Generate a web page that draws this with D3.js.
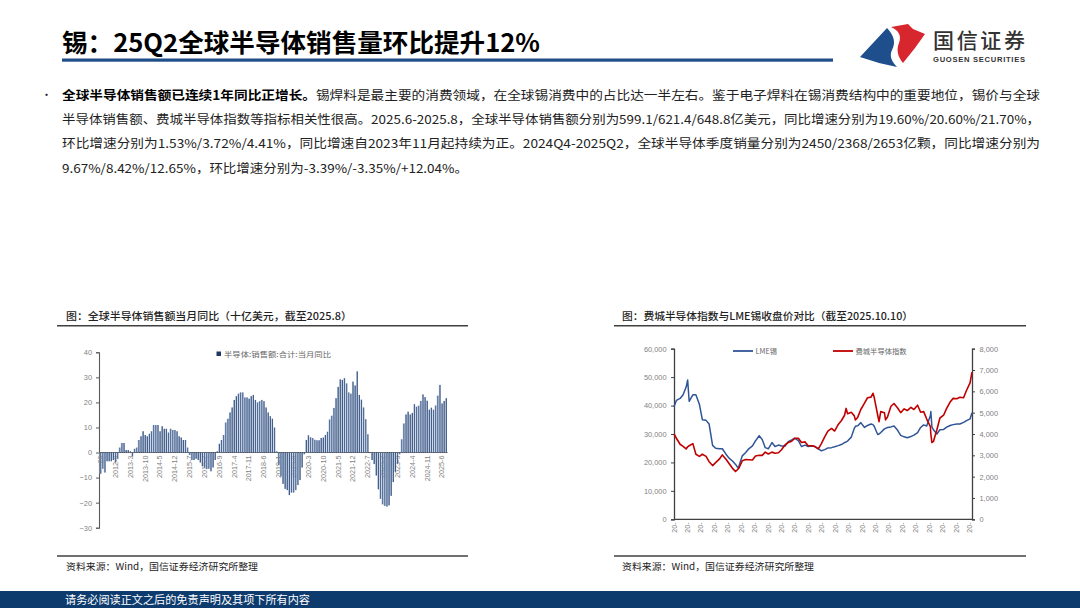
<!DOCTYPE html>
<html><head><meta charset="utf-8">
<script src="https://cdn.jsdelivr.net/npm/d3@7"></script>
<style>
html,body{margin:0;padding:0;background:#fff;}
svg{display:block;font-family:"Noto Sans CJK SC","Noto Sans",sans-serif;}
</style></head><body>
<svg id="c" width="1080" height="608"></svg>
<script>
// ---------------- DATA ----------------
const pageTitle = "锡：25Q2全球半导体销售量环比提升12%";
const bodyBold = "全球半导体销售额已连续1年同比正增长。";
const bodyLines = [
  "锡焊料是最主要的消费领域，在全球锡消费中的占比达一半左右。鉴于电子焊料在锡消费结构中的重要地位，锡价与全球",
  "半导体销售额、费城半导体指数等指标相关性很高。2025.6-2025.8，全球半导体销售额分别为599.1/621.4/648.8亿美元，同比增速分别为19.60%/20.60%/21.70%，",
  "环比增速分别为1.53%/3.72%/4.41%，同比增速自2023年11月起持续为正。2024Q4-2025Q2，全球半导体季度销量分别为2450/2368/2653亿颗，同比增速分别为",
  "9.67%/8.42%/12.65%，环比增速分别为-3.39%/-3.35%/+12.04%。"
];
const leftTitle = "图：全球半导体销售额当月同比（十亿美元，截至2025.8）";
const rightTitle = "图：费城半导体指数与LME锡收盘价对比（截至2025.10.10）";
const sourceText = "资料来源：Wind，国信证券经济研究所整理";
const footerText = "请务必阅读正文之后的免责声明及其项下所有内容";

// Left chart: monthly YoY (%), 2012-01 .. 2025-08
const semiFirstMonth = "2012-01";
const semiLastMonth = "2025-08";
const semiYoY = [
  -8.5, -6.5, -8, -3.5, -3.5, -3.5, -3, -4, -2.5, 2, 3.8, 3.8,
  1, 1, 0.5, -1.5, 1.5, 2, 5, 6.5, 8.5, 7, 6.5, 7.5,
  8.5, 11, 11, 11, 8.5, 10.5, 9.5, 9.5, 8, 9.5, 9, 9,
  8.5, 6.5, 6, 5, 5, 2, -1, -3, -3, -2.5, -3, -4,
  -5.5, -6, -6.5, -6.5, -7.5, -6, -3, 0.5, 3.5, 5, 7, 12,
  13.5, 16, 18, 21, 22.5, 23.5, 24, 24, 22, 22, 21.5, 22.5,
  23, 21, 20, 20.5, 21, 20.5, 18, 16, 14.5, 13.5, 10, 0.5,
  -5, -9.5, -12.5, -14.5, -15, -17, -16, -16, -15, -13, -11, -6,
  -0.7, 5, 6.9, 6.1, 5.8, 5.1, 4.9, 4.9, 5.8, 6, 7, 8.3,
  13.2, 14.7, 17.8, 21.7, 26.2, 29.2, 29, 29.7, 27.6, 24, 23.5, 28.3,
  26.8, 32.4, 23, 21.1, 18, 13.3, 7.3, 0.1, -3, -4.6, -9.2, -14.7,
  -18.5, -20.7, -21.3, -21.6, -21.1, -17.3, -11.8, -7.7, -4.5, -0.7, 5.3, 11.6,
  15.2, 16.3, 15.2, 15.8, 19.3, 18.3, 18.7, 20.6, 23.2, 22.1, 20.7, 17.1,
  17.9, 17.1, 18.8, 22.7, 27, 19.6, 20.6, 21.7
];
const semiLegend = "半导体:销售额:合计:当月同比";
const semiYTicks = [40, 30, 20, 10, 0, -10, -20, -30];
const semiLabelEvery = 7;

// Right chart
const tinDates = [
  "2022-01-04","2022-01-15","2022-02-01","2022-02-15","2022-03-01","2022-03-08","2022-03-15","2022-04-01","2022-04-15","2022-05-01",
  "2022-05-15","2022-06-01","2022-06-15","2022-07-01","2022-07-15","2022-08-01","2022-08-15","2022-09-01","2022-09-15","2022-10-01",
  "2022-10-15","2022-10-28","2022-11-01","2022-11-15","2022-12-01","2022-12-15","2023-01-01","2023-01-15","2023-02-01","2023-02-15",
  "2023-03-01","2023-03-15","2023-04-01","2023-04-15","2023-05-01","2023-05-15","2023-06-01","2023-06-15","2023-07-01","2023-07-15",
  "2023-08-01","2023-08-15","2023-09-01","2023-09-15","2023-10-01","2023-10-15","2023-11-01","2023-11-15","2023-12-01","2023-12-15",
  "2024-01-01","2024-01-15","2024-02-01","2024-02-15","2024-03-01","2024-03-08","2024-03-15","2024-04-01","2024-04-15","2024-04-20",
  "2024-05-01","2024-05-15","2024-06-01","2024-06-15","2024-07-01","2024-07-10","2024-07-15","2024-08-01","2024-08-07","2024-08-15",
  "2024-09-01","2024-09-06","2024-09-15","2024-10-01","2024-10-15","2024-11-01","2024-11-15","2024-12-01","2024-12-15","2025-01-01",
  "2025-01-15","2025-02-01","2025-02-15","2025-03-01","2025-03-15","2025-04-01","2025-04-03","2025-04-08","2025-04-15","2025-05-01",
  "2025-05-15","2025-06-01","2025-06-15","2025-07-01","2025-07-15","2025-08-01","2025-08-15","2025-09-01","2025-09-15","2025-10-01",
  "2025-10-10"
];
const tinLME = [
  39600,41800,42500,43800,46500,49000,41500,43800,43800,40500,
  35000,34800,33500,26000,25000,24800,24800,22900,21500,20500,
  19300,17900,19000,22300,23500,24800,25800,27600,29400,28100,
  25200,24800,27000,25600,26100,25800,25800,27300,27900,28500,
  27700,25600,26100,25600,25800,25600,24800,24100,24500,25100,
  25200,25500,25900,26300,27000,27200,27500,28900,32000,32700,
  32900,34000,32300,33000,33500,33300,32800,29800,30000,30500,
  31800,32000,32300,32500,32800,31300,29500,29000,28700,29100,
  29600,30500,32300,33200,32800,36500,37900,32500,31500,30000,
  31500,31600,32400,33000,33300,33500,33500,34100,34700,35300,
  37500
];
const soxIndex = [
  4000,3800,3520,3420,3300,3400,3450,3550,3050,2950,
  3050,2950,2700,2520,2660,2820,3020,2820,2620,2390,
  2240,2370,2430,2750,2800,2790,2780,2970,3000,3000,
  3150,3060,3150,3100,3120,3260,3500,3600,3660,3800,
  3800,3600,3630,3450,3450,3420,3300,3550,3880,4130,
  4260,4140,4450,4620,4880,5200,4950,5020,4850,4660,
  4790,5150,5450,5700,5730,5910,5750,4880,4580,5050,
  5000,4660,4800,5300,5430,5220,5000,5180,5100,5250,
  5150,5350,5020,5050,4700,4350,4000,3600,3650,4200,
  4750,4880,5200,5500,5670,5650,5720,5700,6050,6400,
  6900
];
const rightSeriesNames = ["LME锡", "费城半导体指数"];
const rightLeftTicks = [0, 10000, 20000, 30000, 40000, 50000, 60000];
const rightRightTicks = [0, 1000, 2000, 3000, 4000, 5000, 6000, 7000, 8000];
const rightXTickDates = [
  "2022-01-04","2022-03-07","2022-05-08","2022-07-09","2022-09-09","2022-11-10","2023-01-11","2023-03-14","2023-05-15","2023-07-16",
  "2023-09-16","2023-11-17","2024-01-18","2024-03-20","2024-05-21","2024-07-22","2024-09-22","2024-11-23","2025-01-24","2025-03-27",
  "2025-05-28","2025-07-29","2025-09-29"
];
const rightXTickText = "20-";

// ---------------- DRAW ----------------
const svg = d3.select("#c");
const NUM = '"Liberation Sans","DejaVu Sans",sans-serif';

const defs = svg.append("defs");
const grad = defs.append("linearGradient").attr("id", "barGrad")
  .attr("x1", "0").attr("x2", "1").attr("y1", "0").attr("y2", "0");
grad.append("stop").attr("offset", "0").attr("stop-color", "#b3c3dc");
grad.append("stop").attr("offset", "0.45").attr("stop-color", "#6581ad");
grad.append("stop").attr("offset", "1").attr("stop-color", "#17305a");

// Header
svg.append("text").attr("x", 62).attr("y", 52)
  .attr("font-size", 25).attr("font-weight", 700).attr("fill", "#000")
  .attr("textLength", 478).attr("lengthAdjust", "spacingAndGlyphs")
  .text(pageTitle);
svg.append("rect").attr("x", 62).attr("y", 58.5).attr("width", 771).attr("height", 3.2).attr("fill", "#1f4e89");

// Logo
svg.append("path").attr("fill", "#1e4e8c")
  .attr("d", "M860,57 L887,28 C894,35 896,43 892,50 C889,56 892,62 897,67 L879,63 Z");
svg.append("path").attr("fill", "#d8262e")
  .attr("d", "M891,27 L908,24 L913,29 L925,34 L915,48 L903,63 C898,57 896,50 899,43 C902,35 898,30 891,27 Z");
svg.append("text").attr("x", 933).attr("y", 48).attr("font-size", 21).attr("fill", "#333")
  .attr("font-weight", 500).attr("textLength", 92).text("国信证券");
svg.append("text").attr("x", 933).attr("y", 62).attr("font-size", 7.6).attr("fill", "#333")
  .attr("font-weight", 700).attr("font-family", NUM).attr("textLength", 92).text("GUOSEN SECURITIES");

// Paragraph
svg.append("text").attr("x", 41).attr("y", 99).attr("font-size", 11).attr("fill", "#222").text("•");
const lineY = [99.5, 123.8, 148.2, 172.5];
const lineLen = [978, 978, 978, 406];
bodyLines.forEach((s, i) => {
  const t = svg.append("text").attr("x", 62).attr("y", lineY[i])
    .attr("font-size", 12.3).attr("fill", "#222")
    .attr("textLength", lineLen[i]).attr("lengthAdjust", "spacingAndGlyphs");
  if (i === 0) t.append("tspan").attr("font-weight", 700).attr("fill", "#000").text(bodyBold);
  t.append("tspan").text(s);
});

// Panel frames (titles, rules, sources)
function panel(x0, x1, titleX, title, titleLen) {
  svg.append("text").attr("x", titleX).attr("y", 320).attr("font-size", 10.2)
    .attr("font-weight", 500).attr("fill", "#222")
    .attr("textLength", titleLen).attr("lengthAdjust", "spacingAndGlyphs").text(title);
  svg.append("line").attr("x1", x0).attr("x2", x1).attr("y1", 325.8).attr("y2", 325.8)
    .attr("stroke", "#404040").attr("stroke-width", 1.6);
  svg.append("line").attr("x1", x0).attr("x2", x1).attr("y1", 556).attr("y2", 556)
    .attr("stroke", "#404040").attr("stroke-width", 1.6);
  svg.append("text").attr("x", titleX).attr("y", 570).attr("font-size", 9.4)
    .attr("fill", "#222").attr("textLength", 192).attr("lengthAdjust", "spacingAndGlyphs").text(sourceText);
}
panel(57, 468, 66, leftTitle, 286);
panel(614, 1026, 622, rightTitle, 291);

// ---- Left chart ----
const months = d3.timeMonth.range(d3.timeParse("%Y-%m")(semiFirstMonth),
  d3.timeMonth.offset(d3.timeParse("%Y-%m")(semiLastMonth), 1));
const semiData = months.map((m, i) => ({ m, v: semiYoY[i], i }));
const xL = d3.scaleBand().domain(semiData.map(d => d.i)).range([99.5, 447]).paddingInner(0.2).paddingOuter(0.05);
const yLft = d3.scaleLinear().domain([-30, 40]).range([527.7, 352.3]);
const gL = svg.append("g");

// y axis
const yAxL = d3.axisLeft(yLft).tickValues(semiYTicks).tickSize(3).tickFormat(d3.format("d"));
const gy = gL.append("g").attr("transform", "translate(99,0)").call(yAxL);
gy.select(".domain").attr("stroke", "#595959").attr("stroke-width", 1.1);
gy.selectAll(".tick line").attr("stroke", "#595959");
gy.selectAll("text").attr("font-size", 7.4).attr("fill", "#7f7f7f").attr("font-family", NUM).attr("dx", -1);

// x labels (drawn under bars)
const fmtM = d3.timeFormat("%Y-%-m");
gL.append("g").selectAll("text")
  .data(semiData.filter(d => d.i % semiLabelEvery === 0))
  .join("text")
  .attr("transform", d => `translate(${xL(d.i) + xL.bandwidth() / 2 + 2.6},${yLft(0) + 3}) rotate(-90)`)
  .attr("text-anchor", "end").attr("font-size", 7.2).attr("fill", "#7f7f7f").attr("font-family", NUM)
  .text(d => d.i === 0 ? "20" : fmtM(d.m));

// zero line
gL.append("line").attr("x1", 99).attr("x2", 447.5).attr("y1", yLft(0)).attr("y2", yLft(0))
  .attr("stroke", "#595959").attr("stroke-width", 1);

// bars
gL.append("g").selectAll("rect").data(semiData).join("rect")
  .attr("x", d => xL(d.i)).attr("width", xL.bandwidth())
  .attr("y", d => yLft(Math.max(0, d.v)))
  .attr("height", d => Math.abs(yLft(d.v) - yLft(0)))
  .attr("fill", "url(#barGrad)");

// legend
gL.append("rect").attr("x", 216.5).attr("y", 351.5).attr("width", 4.5).attr("height", 4.5).attr("fill", "#1f3864");
gL.append("text").attr("x", 224).attr("y", 356.5).attr("font-size", 7.3).attr("fill", "#666")
  .attr("textLength", 107).attr("lengthAdjust", "spacingAndGlyphs").text(semiLegend);

// ---- Right chart ----
const pDate = d3.timeParse("%Y-%m-%d");
const rData = tinDates.map((d, i) => ({ date: pDate(d), tin: tinLME[i], sox: soxIndex[i] }));
const xR = d3.scaleTime().domain([pDate(tinDates[0]), pDate(tinDates[tinDates.length - 1])]).range([674, 972]);
const yRL = d3.scaleLinear().domain([0, 60000]).range([519.3, 348.7]);
const yRR = d3.scaleLinear().domain([0, 8000]).range([519.3, 348.7]);
const gR = svg.append("g");

const axL = gR.append("g").attr("transform", "translate(674,0)")
  .call(d3.axisLeft(yRL).tickValues(rightLeftTicks).tickSize(3).tickFormat(d3.format(",")));
const axR = gR.append("g").attr("transform", "translate(972,0)")
  .call(d3.axisRight(yRR).tickValues(rightRightTicks).tickSize(3).tickFormat(d3.format(",")));
[axL, axR].forEach(a => {
  a.select(".domain").attr("stroke", "#404040").attr("stroke-width", 1.3);
  a.selectAll(".tick line").attr("stroke", "#404040");
  a.selectAll("text").attr("font-size", 7.4).attr("fill", "#7f7f7f").attr("font-family", NUM);
});
axL.selectAll("text").attr("dx", -1.5);
axR.selectAll("text").attr("dx", 1.5);

gR.append("line").attr("x1", 674).attr("x2", 972).attr("y1", 519.3).attr("y2", 519.3)
  .attr("stroke", "#404040").attr("stroke-width", 1.3);
gR.append("g").selectAll("text").data(rightXTickDates).join("text")
  .attr("transform", d => `translate(${xR(pDate(d)) + 2.5},522.5) rotate(-90)`)
  .attr("text-anchor", "end").attr("font-size", 7).attr("fill", "#7f7f7f").attr("font-family", NUM)
  .text(rightXTickText);

const lineTin = d3.line().x(d => xR(d.date)).y(d => yRL(d.tin));
const lineSox = d3.line().x(d => xR(d.date)).y(d => yRR(d.sox));
gR.append("path").datum(rData).attr("d", lineTin).attr("fill", "none")
  .attr("stroke", "#2f5597").attr("stroke-width", 1.5).attr("stroke-linejoin", "round");
gR.append("path").datum(rData).attr("d", lineSox).attr("fill", "none")
  .attr("stroke", "#c00000").attr("stroke-width", 1.6).attr("stroke-linejoin", "round");

// legend
const legR = [
  { x: 733, color: "#2f5597", name: rightSeriesNames[0] },
  { x: 833, color: "#c00000", name: rightSeriesNames[1] }
];
legR.forEach(l => {
  gR.append("line").attr("x1", l.x).attr("x2", l.x + 20).attr("y1", 351).attr("y2", 351)
    .attr("stroke", l.color).attr("stroke-width", 1.8);
  gR.append("text").attr("x", l.x + 22.5).attr("y", 354).attr("font-size", 7.3).attr("fill", "#666").text(l.name);
});

// Footer
svg.append("rect").attr("x", 0).attr("y", 591).attr("width", 1080).attr("height", 17).attr("fill", "#0d3b6e");
svg.append("text").attr("x", 65).attr("y", 604).attr("font-size", 10.8).attr("fill", "#fff")
  .attr("textLength", 245).attr("lengthAdjust", "spacingAndGlyphs").text(footerText);
</script>
</body></html>
